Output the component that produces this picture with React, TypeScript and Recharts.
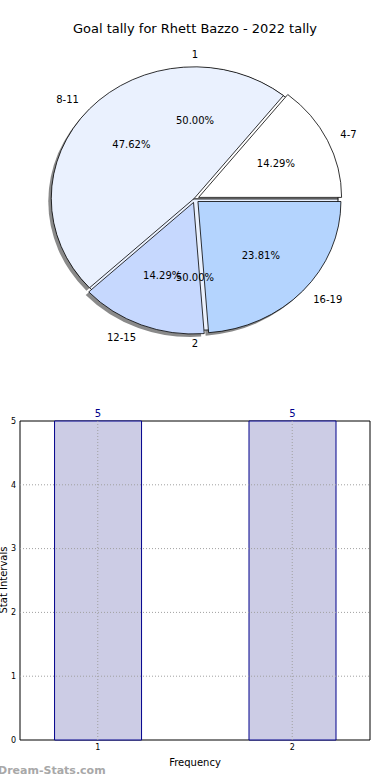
import { Bar, BarChart, LabelList, Pie, PieChart, ReferenceArea, ReferenceLine, XAxis, YAxis } from "recharts";

const TITLE = "Goal tally for Rhett Bazzo - 2022 tally";

// outer pie: stat intervals
const INTERVALS = ["4-7", "8-11", "12-15", "16-19"];
const INTERVAL_COUNTS = [3, 10, 3, 5];

// inner pie: frequencies
const FREQ_NAMES = ["1", "2"];
const FREQ_COUNTS = [5, 5];

// bar chart
const FREQ_TICKS = [1, 2];
const FREQ_VALUES = [5, 5];
const Y_TICKS = [0, 1, 2, 3, 4, 5];
const Y_GRID = [1, 2, 3, 4];

const FONT = "'DejaVu Sans', sans-serif";
const RY = 0.92; // pie is drawn a bit squashed, like the original

const INTERVAL_FILL: Record<string, string> = {
  "4-7": "#ffffff",
  "8-11": "#eaf1fe",
  "12-15": "#c6d8fe",
  "16-19": "#b4d4fe",
};
const FREQ_FILL: Record<string, string> = { "1": "#ffffff", "2": "#eaf1fe" };
const EXPLODE: Record<string, number> = { "4-7": 4, "8-11": 1, "12-15": 4, "16-19": 4 };

const pieData = INTERVALS.map((name, i) => ({ name, value: INTERVAL_COUNTS[i] }));
const freqData = FREQ_NAMES.map((name, i) => ({ name, value: FREQ_COUNTS[i] }));
const barData = FREQ_TICKS.map((x, i) => ({ x, value: FREQ_VALUES[i] }));

const RAD = Math.PI / 180;

function wedgePath(cx: number, cy: number, r: number, a0: number, a1: number) {
  const ry = r * RY;
  const x0 = cx + r * Math.cos(a0 * RAD);
  const y0 = cy - ry * Math.sin(a0 * RAD);
  const x1 = cx + r * Math.cos(a1 * RAD);
  const y1 = cy - ry * Math.sin(a1 * RAD);
  const large = Math.abs(a1 - a0) > 180 ? 1 : 0;
  return `M${cx},${cy} L${x0},${y0} A${r},${ry} 0 ${large} 0 ${x1},${y1} Z`;
}

function makeWedge(fills: Record<string, string>, shadow: boolean) {
  return (props: any) => {
    const { cx, cy, outerRadius, startAngle, endAngle, midAngle, name, payload } = props;
    const key = name ?? payload?.name;
    const off = EXPLODE[key] ?? 0;
    const ox = cx + off * Math.cos(midAngle * RAD);
    const oy = cy - off * RY * Math.sin(midAngle * RAD);
    if (shadow) {
      return <path d={wedgePath(ox - 3, oy + 3, outerRadius, startAngle, endAngle)} fill="#8a8a8a" stroke="none" />;
    }
    return (
      <path
        d={wedgePath(ox, oy, outerRadius, startAngle, endAngle)}
        fill={fills[key]}
        stroke="#000"
        strokeWidth={0.8}
      />
    );
  };
}

function makeLabel() {
  return (props: any) => {
    const { cx, cy, outerRadius, midAngle, percent, name, payload } = props;
    const key = name ?? payload?.name;
    const off = EXPLODE[key] ?? 0;
    const c = Math.cos(midAngle * RAD);
    const s = Math.sin(midAngle * RAD);
    const r1 = outerRadius * 1.1 + off;
    const r2 = outerRadius * 0.6 + off;
    const anchor = Math.abs(c) < 0.05 ? "middle" : c > 0 ? "start" : "end";
    return (
      <g>
        <text x={cx + r1 * c} y={cy - r1 * RY * s} textAnchor={anchor} dominantBaseline="central" fontSize={10} fill="#000" fontFamily={FONT}>
          {key}
        </text>
        <text x={cx + r2 * c} y={cy - r2 * RY * s} textAnchor="middle" dominantBaseline="central" fontSize={10} fill="#000" fontFamily={FONT}>
          {(percent * 100).toFixed(2)}%
        </text>
      </g>
    );
  };
}

const tickStyle = { fontSize: 8, fill: "#000", fontFamily: FONT };

export default function App() {
  const cx = 195;
  const cy = 199;
  const r = 143;
  return (
    <div style={{ position: "absolute", left: 0, top: 0, width: 390, height: 780, background: "#fff", fontFamily: FONT, overflow: "hidden" }}>
      <div style={{ position: "absolute", top: 21, left: 0, width: 390, textAlign: "center", fontSize: 13 }}>{TITLE}</div>
      <div style={{ position: "absolute", top: 0, left: 0 }}>
        <PieChart width={390} height={380} margin={{ top: 0, right: 0, bottom: 0, left: 0 }}>
          <Pie data={pieData} dataKey="value" cx={cx} cy={cy} outerRadius={r} startAngle={0} endAngle={360}
            isAnimationActive={false} label={false} labelLine={false} stroke="none"
            shape={makeWedge(INTERVAL_FILL, true)} inactiveShape={makeWedge(INTERVAL_FILL, true)} activeShape={makeWedge(INTERVAL_FILL, true)} />
          <Pie data={freqData} dataKey="value" cx={cx} cy={cy} outerRadius={r} startAngle={0} endAngle={360}
            isAnimationActive={false} label={makeLabel()} labelLine={false}
            shape={makeWedge(FREQ_FILL, false)} inactiveShape={makeWedge(FREQ_FILL, false)} activeShape={makeWedge(FREQ_FILL, false)} />
          <Pie data={pieData} dataKey="value" cx={cx} cy={cy} outerRadius={r} startAngle={0} endAngle={360}
            isAnimationActive={false} label={makeLabel()} labelLine={false}
            shape={makeWedge(INTERVAL_FILL, false)} inactiveShape={makeWedge(INTERVAL_FILL, false)} activeShape={makeWedge(INTERVAL_FILL, false)} />
        </PieChart>
      </div>
      <div style={{ position: "absolute", top: 400, left: 0 }}>
        <BarChart width={390} height={380} data={barData} margin={{ top: 21, right: 20, bottom: 10, left: 0 }}>
          <XAxis dataKey="x" type="number" domain={[0.6, 2.4]} ticks={FREQ_TICKS} allowDataOverflow height={30}
            axisLine={false} tickLine={false} tick={tickStyle} tickSize={4} tickMargin={0}
            label={{ value: "Frequency", position: "insideBottom", offset: 4, fontSize: 10, fill: "#000", fontFamily: FONT }} />
          <YAxis type="number" domain={[0, 5]} ticks={Y_TICKS} width={20}
            axisLine={false} tickLine={false} tick={tickStyle} tickSize={4} tickMargin={0} />
          <Bar dataKey="value" barSize={87} fill="#ccccE5" stroke="#00008b" strokeWidth={1} isAnimationActive={false}>
            <LabelList dataKey="value" position="top" offset={4} fontSize={10} fill="#00008b" fontFamily={FONT} />
          </Bar>
          {FREQ_TICKS.map((t) => (
            <ReferenceLine key={"vx" + t} x={t} stroke="#a0a0a0" strokeDasharray="1 2" />
          ))}
          {Y_GRID.map((t) => (
            <ReferenceLine key={"hy" + t} y={t} stroke="#a0a0a0" strokeDasharray="1 2" />
          ))}
          <ReferenceArea x1={0.6} x2={2.4} y1={0} y2={5} fill="none" stroke="#000" strokeWidth={1} ifOverflow="visible" />
        </BarChart>
      </div>
      <div style={{ position: "absolute", left: 4, top: 580, width: 0, height: 0 }}>
        <div style={{ position: "absolute", left: -50, top: -7, width: 100, textAlign: "center", fontSize: 10, lineHeight: "14px", transform: "rotate(-90deg)" }}>
          Stat Intervals
        </div>
      </div>
      <div style={{ position: "absolute", left: -2, top: 764, fontSize: 11, fontWeight: "bold", color: "#a8a8a8" }}>Dream-Stats.com</div>
    </div>
  );
}
